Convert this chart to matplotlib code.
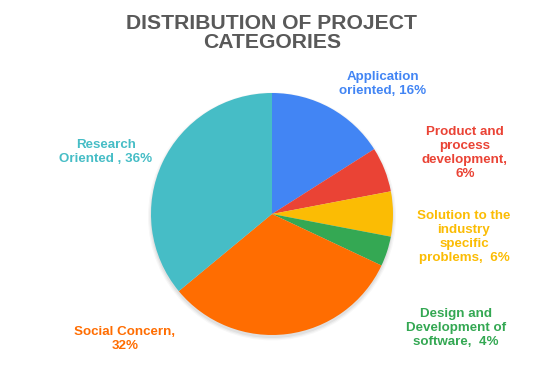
import matplotlib.pyplot as plt
from matplotlib.patches import Circle

plt.rcParams['font.family'] = ['Liberation Sans', 'DejaVu Sans']

# Data
categories = ['Application\noriented, 16%', 'Product and\nprocess\ndevelopment,\n6%',
              'Solution to the\nindustry\nspecific\nproblems,  6%',
              'Design and\nDevelopment of\nsoftware,  4%',
              'Social Concern,\n32%', 'Research\nOriented , 36%']
shares = [16, 6, 6, 4, 32, 36]
colors = ['#4285F4', '#EA4335', '#FBBC04', '#34A853', '#FF6D01', '#46BDC6']

W, H = 547, 373
fig = plt.figure(figsize=(W / 100, H / 100), dpi=100)
fig.patch.set_facecolor('white')

# pie axes: centre (272, 214) px, radius 121 px
cx, cy, r = 272, 214, 121
pad = 6
ax = fig.add_axes([(cx - r - pad) / W, 1 - (cy + r + pad) / H,
                   2 * (r + pad) / W, 2 * (r + pad) / H])
# soft shadow under the pie
for k, a in [(1.025, 0.03), (1.015, 0.04), (1.005, 0.05)]:
    ax.add_patch(Circle((0, -0.02), k, color='black', alpha=a, lw=0, zorder=0))
ax.pie(shares, colors=colors, startangle=90, counterclock=False, radius=1,
       wedgeprops=dict(linewidth=0, zorder=2))
lim = (r + pad) / r
ax.set_xlim(-lim, lim)
ax.set_ylim(-lim, lim)
ax.set_aspect('equal')
ax.axis('off')

# label positions (pixel centres)
label_pos = [(383, 84), (465, 153), (464, 237), (456, 328), (125, 339), (106, 152)]
for text, (x, y), c in zip(categories, label_pos, colors):
    fig.text(x / W, 1 - y / H, text, color=c, fontsize=9.6, fontweight='bold',
             ha='center', va='center', linespacing=1.2)

fig.text(272 / W, 1 - 33 / H, 'DISTRIBUTION OF PROJECT\nCATEGORIES', color='#595959',
         fontsize=15.2, fontweight='bold', ha='center', va='center', linespacing=1.05)

fig.savefig('out.png', dpi=100)
